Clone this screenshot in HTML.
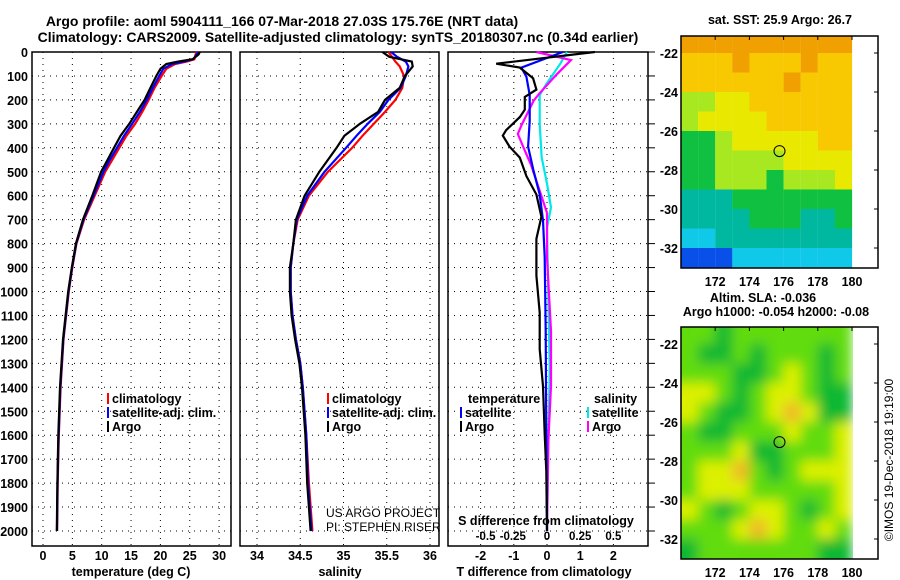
<!DOCTYPE html>
<html><head><meta charset="utf-8"><style>
body{margin:0;background:#fff;width:900px;height:580px;overflow:hidden}
svg{display:block;font-family:"Liberation Sans",sans-serif;font-weight:bold}
text{fill:#000}
</style></head><body>
<svg id="fig" width="900" height="580" viewBox="0 0 900 580" xmlns="http://www.w3.org/2000/svg">
<defs>
<filter id="blur" x="-0.1" y="-0.1" width="1.2" height="1.2"><feGaussianBlur stdDeviation="6"/></filter>
<clipPath id="clipSST"><rect x="681" y="36" width="172" height="232"/></clipPath>
<clipPath id="clipSLA"><rect x="681" y="327" width="172" height="232"/></clipPath>
</defs>
<text x="282" y="26" font-size="14" text-anchor="middle">Argo profile: aoml 5904111_166 07-Mar-2018 27.03S 175.76E (NRT data)</text>
<text x="338" y="42" font-size="14" text-anchor="middle">Climatology: CARS2009. Satellite-adjusted climatology: synTS_20180307.nc (0.34d earlier)</text>
<g id="g"></g>
</svg>
<script>
// ---- data ----
const tDepth=[0,10,30,40,50,70,100,150,200,250,300,350,400,450,500,600,700,800,900,1000,1200,1400,1600,1800,2000];
const tArgo=[26.7,26.5,25.5,23,21,20,19.3,18.3,17.3,16,14.7,13.2,12.1,11,9.9,8.4,6.8,5.6,4.9,4.3,3.4,2.9,2.6,2.45,2.35];
const tClim=[26.2,26.0,25.8,24.5,22.5,21.0,20.2,19.0,18.0,16.9,15.7,14.2,13.0,11.8,10.6,8.8,7.0,5.7,5.0,4.4,3.5,3.0,2.7,2.5,2.4];
const tSat=[26.4,26.2,25.6,24,22,20.5,19.8,18.7,17.7,16.5,15.2,13.8,12.6,11.4,10.3,8.6,6.9,5.65,4.95,4.35,3.45,2.95,2.65,2.47,2.38];
const sDepth=[0,20,40,60,100,150,200,250,300,350,400,500,600,700,800,900,1000,1100,1200,1300,1400,1600,1800,2000];
const sArgo=[35.45,35.53,35.79,35.8,35.71,35.65,35.48,35.4,35.19,35.01,34.92,34.72,34.55,34.45,34.42,34.38,34.38,34.4,34.44,34.49,34.52,34.56,34.58,34.62];
const sClim=[35.52,35.56,35.6,35.65,35.7,35.68,35.6,35.48,35.35,35.22,35.1,34.82,34.6,34.47,34.42,34.39,34.39,34.41,34.45,34.5,34.53,34.57,34.6,34.64];
const sSat=[35.55,35.62,35.72,35.75,35.72,35.66,35.52,35.42,35.28,35.15,35.03,34.78,34.58,34.46,34.42,34.39,34.39,34.41,34.45,34.5,34.53,34.57,34.59,34.63];
const dtArgoDepth=[0,49,65,110,157,188,241,272,326,349,395,441,518,595,688,780,934,1088,1241,1395,1595,1749,2000];
const dtArgo=[1.44,-1.53,-0.82,-0.42,-0.32,-0.67,-0.67,-0.82,-1.23,-1.33,-1.13,-0.82,-0.62,-0.32,-0.17,-0.32,-0.32,-0.22,-0.22,-0.12,-0.07,-0.02,0];
const dtSatDepth=[0,65,103,180,288,395,488,595,703,857,1165,1600,2000];
const dtSat=[0.48,-0.77,-0.62,-0.52,-0.52,-0.57,-0.42,-0.22,-0.12,-0.07,-0.04,-0.02,0];
const dsArgoDepth=[0,34,95,172,203,303,342,395,472,580,672,857,1165,1395,1626,2000];
const dsArgo=[-0.08,0.18,0.07,-0.055,-0.1,-0.19,-0.22,-0.18,-0.12,-0.055,0,0,0.03,0.03,0.01,0];
const dsSatDepth=[0,49,134,180,303,441,549,649,734,1011,1318,2000];
const dsSat=[0.15,0.1,-0.005,-0.055,-0.055,-0.04,0,0.03,0,0.01,0.02,0];
const depthTicks=[0,100,200,300,400,500,600,700,800,900,1000,1100,1200,1300,1400,1500,1600,1700,1800,1900,2000];
const tempTicks=[0,5,10,15,20,25,30];
const salTicks=[34,34.5,35,35.5,36];
const salTickLabels=["34","34.5","35","35.5","36"];
const dTTicks=[-2,-1,0,1,2];
const dSTicks=[-0.5,-0.25,0,0.25,0.5];
const dSTickLabels=["-0.5","-0.25","0","0.25","0.5"];
const latTicks=[-22,-24,-26,-28,-30,-32];
const lonTicks=[172,174,176,178,180];
// SST grid: rows lat -21..-33 (1 deg), cols lon 170..180; 0=dark blue ... 8=orange
const sstGrid=[
[8,8,8,8,8,8,8,8,8,8],
[7,7,7,8,7,7,7,8,7,7],
[7,7,7,7,7,7,8,7,7,7],
[5,5,6,6,7,7,7,7,7,7],
[5,6,6,6,6,7,7,7,7,7],
[4,4,5,6,6,6,6,6,7,7],
[4,4,5,5,5,5,6,6,6,6],
[4,4,5,5,5,4,5,5,5,6],
[3,3,3,4,4,4,4,4,4,4],
[3,3,3,3,4,4,4,3,3,4],
[2,2,3,3,3,3,3,3,3,3],
[1,1,1,2,2,2,2,2,2,2]];
const sstColors=["#001aa8","#0850e8","#10c8e8","#00b8a0","#10c040","#a8e820","#e8e800","#f8c800","#f0a000"];
const slaGrid=[
[2,2,1,2,2,2,2,2,2,2],
[2,1,1,2,1,2,2,2,1,2],
[2,2,2,1,1,2,3,2,1,2],
[3,3,2,1,2,3,3,2,1,1],
[3,2,1,1,2,3,4,3,1,1],
[2,1,1,2,2,2,3,2,2,3],
[2,2,2,3,1,1,2,2,2,3],
[2,3,3,4,2,1,2,3,3,3],
[2,3,3,3,2,2,2,2,2,3],
[3,2,1,2,3,3,2,1,2,3],
[2,2,2,3,4,3,2,2,3,2],
[1,2,2,2,2,2,2,2,1,1]];
const slaColors=["#00a040","#10b830","#60dc10","#dcf000","#f0b828"];
const argoLon=175.76, argoLat=-27.03;

// ---- helpers ----
const NS="http://www.w3.org/2000/svg";
const G=document.getElementById('g');
function mk(tag,attrs,parent){const e=document.createElementNS(NS,tag);for(const k in attrs)e.setAttribute(k,attrs[k]);(parent||G).appendChild(e);return e;}
function txt(x,y,s,size,anchor){const e=mk('text',{x:x,y:y,'font-size':size,'text-anchor':anchor||'start'});e.textContent=s;return e;}
const yD=d=>52+d*0.2395;
const PB=546;
const xT=v=>43+v*5.87;
const xS=v=>257+(v-34)*86.5;
const xDT=v=>547+v*33.2;
const xDS=v=>547+v*132.8;

function panel(x0,x1,name){
  const r=mk('rect',{x:x0,y:52,width:x1-x0,height:PB-52,fill:'none',stroke:'#000','stroke-width':1.5});
  
  
  depthTicks.forEach(d=>{
    const l=mk('line',{x1:x0,x2:x1,y1:yD(d),y2:yD(d),stroke:'#000','stroke-dasharray':'1 5','stroke-width':1});
    
    
  });
}
function vgrid(xs,f,y1,y2){xs.forEach(v=>{
  const l=mk('line',{x1:f(v),x2:f(v),y1:y1,y2:y2,stroke:'#000','stroke-dasharray':'1 5'});
  
  
});}
function line(depths,vals,fx,color,name,w){
  const p=depths.map((d,i)=>fx(vals[i]).toFixed(1)+','+yD(d).toFixed(1)).join(' ');
  const e=mk('polyline',{points:p,fill:'none',stroke:color,'stroke-width':w||2.2});
  
  
}
function legendEntry(x,y,color,label){
  const b=mk('rect',{x:x,y:y-10,width:2,height:11,fill:color});
  
  
  const t=txt(x+5,y,label,12.5);
  
  
}

// ---- panel 1: temperature ----
panel(32,231,'temperature-panel');
vgrid(tempTicks,xT,52,PB);
line(tDepth,tClim,xT,'#ff0000','temp-climatology-line');
line(tDepth,tSat,xT,'#0000ff','temp-satellite-line');
line(tDepth,tArgo,xT,'#000000','temp-argo-line');
depthTicks.forEach(d=>{const t=txt(28,yD(d)+5,String(d),12.5,'end');
  
  });
tempTicks.forEach(v=>{const t=txt(xT(v),560,String(v),12.5,'middle');
  
  });
{const t=txt(131,576,'temperature (deg C)',12.5,'middle');}
legendEntry(107,403,'#ff0000','climatology');
legendEntry(107,417,'#0000ff','satellite-adj. clim.');
legendEntry(107,431,'#000000','Argo');

// ---- panel 2: salinity ----
panel(240,439,'salinity-panel');
vgrid(salTicks,xS,52,PB);
line(sDepth,sClim,xS,'#ff0000','sal-climatology-line');
line(sDepth,sSat,xS,'#0000ff','sal-satellite-line');
line(sDepth,sArgo,xS,'#000000','sal-argo-line');
salTicks.forEach((v,i)=>{const t=txt(xS(v),560,salTickLabels[i],12.5,'middle');
  
  });
{const t=txt(340,576,'salinity',12.5,'middle');}
legendEntry(327,403,'#ff0000','climatology');
legendEntry(327,417,'#0000ff','satellite-adj. clim.');
legendEntry(327,431,'#000000','Argo');
{const t=mk('text',{x:326,y:517,'font-size':12,'font-weight':'normal'});t.textContent='US ARGO PROJECT';
 const u=mk('text',{x:326,y:531,'font-size':12,'font-weight':'normal'});u.textContent='PI: STEPHEN RISER';}

// ---- panel 3: differences ----
panel(448,648,'difference-panel');
vgrid(dTTicks,xDT,52,PB);
depthTicks.forEach(d=>{const l=mk('line',{x1:648,x2:655,y1:yD(d),y2:yD(d),stroke:'#000'});});
line(dsSatDepth,dsSat,xDS,'#00e8e8','sal-diff-satellite-line');
line(dsArgoDepth,dsArgo,xDS,'#ff00ff','sal-diff-argo-line');
line(dtSatDepth,dtSat,xDT,'#0000ff','temp-diff-satellite-line');
line(dtArgoDepth,dtArgo,xDT,'#000000','temp-diff-argo-line');
dTTicks.forEach(v=>{const t=txt(xDT(v),560,String(v),12.5,'middle');
  
  });
const sOff=[5,-1,0,0,0];
dSTicks.forEach((v,i)=>{const t=txt(xDS(v*0)+ (xDT(v*4)-547)+sOff[i],540,dSTickLabels[i],11.5,'middle');
  
  });
{const t=txt(546,525,'S difference from climatology',12.5,'middle');
 const u=txt(544,576,'T difference from climatology',12.5,'middle');
 const a=txt(468,403,'temperature',12.5);
 const b=txt(594,403,'salinity',12.5);}
legendEntry(460,417,'#0000ff','satellite');
legendEntry(460,431,'#000000','Argo');
legendEntry(587,417,'#00e8e8','satellite');
legendEntry(587,431,'#ff00ff','Argo');

// ---- maps ----
function mapPanel(top,grid,colors,clip,blur,name){
  const lonX=v=>681+(v-170)*17.1;
  const latY=v=>top+17+(-22-v)*19.5;
  const g=mk('g',{'clip-path':'url(#'+clip+')'});
  
  
  const inner=mk('g',blur?{filter:'url(#blur)'}:{},g);
  grid.forEach((row,r)=>row.forEach((c,k)=>{
    const x=lonX(170+k),y=latY(-21-r);
    const e=mk('rect',{x:x-(k==0?20:0),y:y-(r==0?20:0),width:17.2+(k==0?20:0),height:19.6+(r==0?20:0)+(r==11?20:0),fill:colors[c]},inner);
    
    
  }));
  const f=mk('rect',{x:681,y:top,width:197,height:232,fill:'none',stroke:'#000','stroke-width':1.5});
  
  
  const c=mk('circle',{cx:lonX(argoLon),cy:latY(argoLat),r:5.5,fill:'none',stroke:'#000'});
  
  
  latTicks.forEach(v=>{const t=txt(678,latY(v)+5,String(v),12.5,'end');
    
    
    const l=mk('line',{x1:874,x2:878,y1:latY(v),y2:latY(v),stroke:'#000'});
    
    });
  lonTicks.forEach(v=>{const t=txt(lonX(v),top+250,String(v),12.5,'middle');
    
    
    const l=mk('line',{x1:lonX(v),x2:lonX(v),y1:top,y2:top+4,stroke:'#000'});
    
    });
}
mapPanel(36,sstGrid,sstColors,'clipSST',false,'sst-map');
mapPanel(327,slaGrid,slaColors,'clipSLA',true,'sla-map');
{const a=txt(780,24,'sat. SST: 25.9 Argo: 26.7',12.5,'middle');
 const b=txt(763,302,'Altim. SLA: -0.036',12.5,'middle');
 const c=txt(776,316,'Argo h1000: -0.054 h2000: -0.08',12.5,'middle');
 const d=mk('text',{x:0,y:0,'font-size':12,'font-weight':'normal','text-anchor':'middle',transform:'translate(893,460) rotate(-90)'});
 d.textContent='©IMOS 19-Dec-2018 19:19:00';}
</script>
</body></html>
